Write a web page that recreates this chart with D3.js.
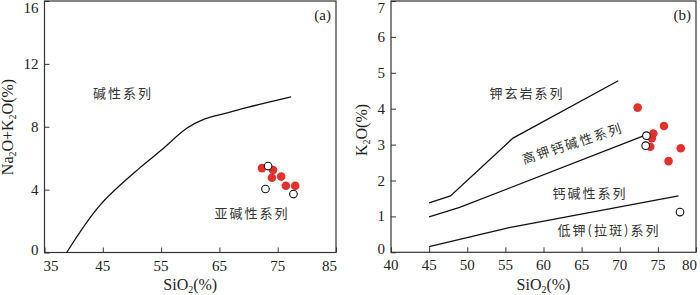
<!DOCTYPE html>
<html>
<head>
<meta charset="utf-8">
<script src="https://cdn.jsdelivr.net/npm/d3@7"></script>
<style>
  body { margin: 0; background: #fff; }
  svg { display: block; }
  .num { font-family: "Liberation Serif", "DejaVu Serif", serif; font-size: 15px; fill: #222; }
  .ttl { font-family: "Liberation Serif", "DejaVu Serif", serif; font-size: 16px; fill: #222; }
  .cn { font-family: "Noto Sans CJK SC", sans-serif; font-size: 13px; fill: #333; letter-spacing: 2px; }
</style>
</head>
<body>
<svg id="chart" width="700" height="295"></svg>
<script>
// Panel (a) : TAS diagram
const aTicksX = [35, 45, 55, 65, 75, 85]
const aTicksY = [0, 4, 8, 12, 16]
const aRedSi = [72.3, 74.2, 74.0, 75.6, 76.4, 78.0]
const aRedAlk = [5.37, 5.25, 4.76, 4.83, 4.25, 4.25]
const aOpenSi = [73.35, 72.9, 77.7]
const aOpenAlk = [5.50, 4.04, 3.72]
// alkaline / subalkaline boundary
const alkLine = [[38.8, 0], [44.5, 3.0], [51.4, 5.4], [55, 6.5], [59.4, 7.9], [62.5, 8.5], [66, 8.85], [70, 9.25], [77.3, 9.9]]

// Panel (b) : SiO2 - K2O
const bTicksX = [40, 45, 50, 55, 60, 65, 70, 75, 80]
const bTicksY = [0, 1, 2, 3, 4, 5, 6, 7]
const bRedSi = [72.35, 75.8, 74.4, 74.2, 74.0, 78.0, 76.4]
const bRedK = [4.03, 3.52, 3.31, 3.18, 2.94, 2.90, 2.54]
const bOpenSi = [73.5, 73.4, 77.9]
const bOpenK = [3.25, 2.97, 1.12]
const shoLine = [[45, 1.38], [47.8, 1.57], [56, 3.18], [69.8, 4.78]]
const hkLine = [[45, 0.99], [49, 1.25], [73.2, 3.25]]
const lkLine = [[45, 0.16], [55.5, 0.69], [77.7, 1.57]]

const svg = d3.select("#chart")
const red = "#e4302b"

function sub(sel, parts) {
    // parts : [text, isSub]
    parts.forEach(p => {
        const t = sel.append("tspan").text(p[0])
        if (p[1]) t.attr("font-size", "10px").attr("dy", 3)
        else t.attr("dy", sel.selectAll("tspan").size() > 1 ? -3 : 0)
    })
}

function panel(opt) {
    const g = svg.append("g")
    const x = d3.scaleLinear().domain(opt.xd).range([opt.x0, opt.x1])
    const y = d3.scaleLinear().domain(opt.yd).range([opt.y0, opt.y1])

    // ticks (inside)
    g.append("g")
        .attr("transform", `translate(0,${opt.y0})`)
        .call(d3.axisBottom(x).tickValues(opt.tx).tickSize(-5).tickFormat(""))
        .call(s => s.select(".domain").remove())
    g.append("g")
        .attr("transform", `translate(${opt.x0},0)`)
        .call(d3.axisLeft(y).tickValues(opt.ty).tickSize(-5).tickFormat(""))
        .call(s => s.select(".domain").remove())
    g.selectAll(".tick line").attr("stroke", "#333")

    // frame
    g.append("rect")
        .attr("x", opt.x0).attr("y", opt.y1)
        .attr("width", opt.x1 - opt.x0).attr("height", opt.y0 - opt.y1)
        .attr("fill", "none").attr("stroke", "#333").attr("stroke-width", 1.2)

    // tick labels
    opt.tx.forEach((v, i) => {
        let anchor = "middle", dx = 0
        if (i == opt.tx.length - 1) { anchor = "end"; dx = 1 }
        if (i == 0 && opt.firstStart) { anchor = "start"; dx = -1 }
        g.append("text").attr("class", "num")
            .attr("x", x(v) + dx).attr("y", opt.y0 + 18)
            .attr("text-anchor", anchor).text(v)
    })
    opt.ty.forEach((v, i) => {
        let yy = y(v) + 5
        if (i == opt.ty.length - 1) yy = y(v) + 12
        if (i == 0) yy = y(v) + 2
        g.append("text").attr("class", "num")
            .attr("x", opt.x0 - 6).attr("y", yy)
            .attr("text-anchor", "end").text(v)
    })

    // x label
    const xl = g.append("text").attr("class", "ttl")
        .attr("x", (opt.x0 + opt.x1) / 2).attr("y", 290)
        .attr("text-anchor", "middle")
    sub(xl, [["SiO", false], ["2", true], ["(%)", false]])

    // y label
    const yl = g.append("text").attr("class", "ttl")
        .attr("transform", `translate(${opt.ylx},${opt.yly}) rotate(-90)`)
        .attr("text-anchor", "middle")
    sub(yl, opt.ylab)

    // panel letter
    g.append("text").attr("class", "num")
        .attr("x", opt.x1 - 5).attr("y", 20)
        .attr("text-anchor", "end").text(opt.letter)

    const line = d3.line().x(d => x(d[0])).y(d => y(d[1]))
    opt.lines.forEach(l => {
        g.append("path")
            .attr("d", line.curve(l.curve || d3.curveLinear)(l.pts))
            .attr("fill", "none").attr("stroke", "#111").attr("stroke-width", 1.3)
    })

    g.append("g").selectAll("circle")
        .data(opt.redSi)
        .enter()
        .append("circle")
        .attr("cx", d => x(d))
        .attr("cy", (d, i) => y(opt.redY[i]))
        .attr("r", 4.3)
        .attr("fill", red)
    g.append("g").selectAll("circle")
        .data(opt.openSi)
        .enter()
        .append("circle")
        .attr("cx", d => x(d))
        .attr("cy", (d, i) => y(opt.openY[i]))
        .attr("r", 3.8)
        .attr("fill", "#fff")
        .attr("stroke", "#111")
        .attr("stroke-width", 1.1)

    opt.labels.forEach(l => {
        g.append("text").attr("class", "cn")
            .attr("text-anchor", "middle")
            .attr("transform", `translate(${l.x},${l.y}) rotate(${l.rot || 0})`)
            .text(l.t)
    })
    return g
}

panel({
    xd: [35, 85], yd: [0, 16],
    x0: 44.5, x1: 336, y0: 252.5, y1: 1,
    tx: aTicksX, ty: aTicksY, firstStart: true,
    ylx: 13, yly: 127,
    ylab: [["Na", false], ["2", true], ["O+K", false], ["2", true], ["O(%)", false]],
    letter: "(a)",
    lines: [{ pts: alkLine, curve: d3.curveCatmullRom }],
    redSi: aRedSi, redY: aRedAlk, openSi: aOpenSi, openY: aOpenAlk,
    labels: [
        { t: "碱性系列", x: 123, y: 98 },
        { t: "亚碱性系列", x: 252, y: 218 }
    ]
})

panel({
    xd: [40, 80], yd: [0, 7],
    x0: 391, x1: 696, y0: 252.3, y1: 1,
    tx: bTicksX, ty: bTicksY, firstStart: false,
    ylx: 367, yly: 130,
    ylab: [["K", false], ["2", true], ["O(%)", false]],
    letter: "(b)",
    lines: [{ pts: shoLine }, { pts: hkLine }, { pts: lkLine }],
    redSi: bRedSi, redY: bRedK, openSi: bOpenSi, openY: bOpenK,
    labels: [
        { t: "钾玄岩系列", x: 527, y: 98 },
        { t: "高钾钙碱性系列", x: 574, y: 148, rot: -18 },
        { t: "钙碱性系列", x: 590, y: 198 },
        { t: "低钾(拉斑)系列", x: 609, y: 235 }
    ]
})
</script>
</body>
</html>
